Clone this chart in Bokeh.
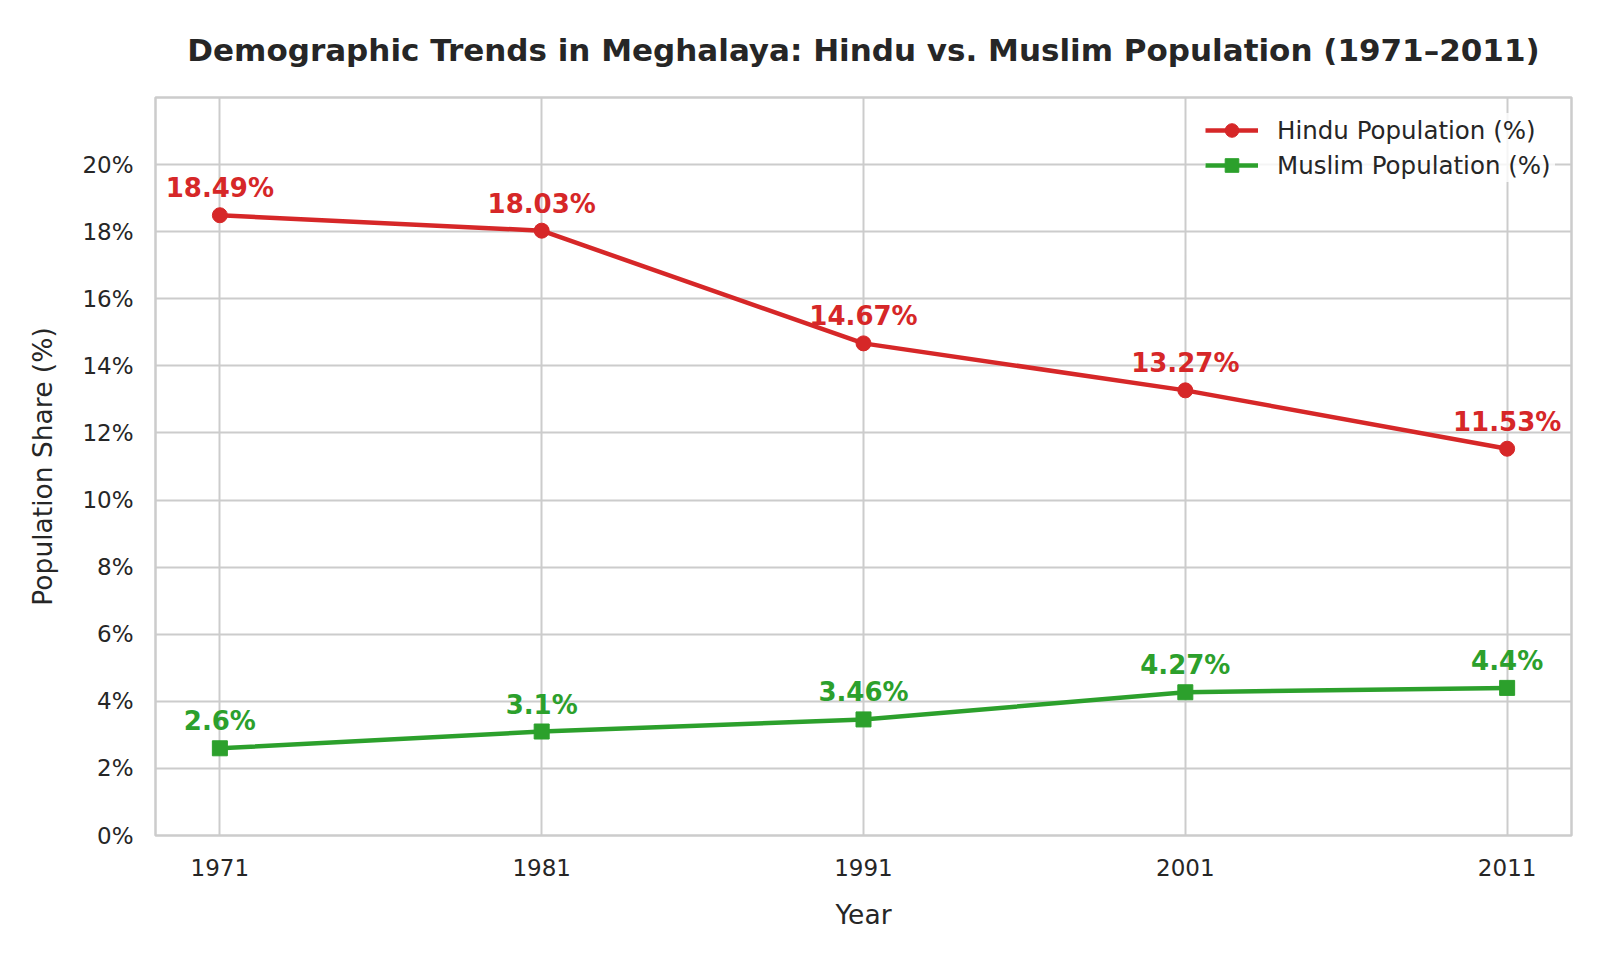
from bokeh.plotting import figure
from bokeh.models import ColumnDataSource, FixedTicker, PrintfTickFormatter, Range1d, Legend
from bokeh.core.properties import value
from bokeh.embed import file_html
from bokeh.resources import INLINE

years = [1971, 1981, 1991, 2001, 2011]
hindu = [18.49, 18.03, 14.67, 13.27, 11.53]
muslim = [2.6, 3.1, 3.46, 4.27, 4.4]
y_ticks = [0, 2, 4, 6, 8, 10, 12, 14, 16, 18, 20]
title_text = "Demographic Trends in Meghalaya: Hindu vs. Muslim Population (1971–2011)"

RED = "#d62728"
GREEN = "#2ca02c"
TXT = "#262626"
FONT = "DejaVu Sans"

p = figure(width=1584, height=944, output_backend="svg", toolbar_location=None,
           x_range=Range1d(1969, 2013), y_range=Range1d(0, 22),
           min_border_left=155, min_border_right=13, min_border_top=97, min_border_bottom=109,
           background_fill_color="white", border_fill_color="white")

p.title.text = title_text
p.title.text_font = FONT
p.title.text_font_size = "31px"
p.title.text_font_style = "bold"
p.title.text_color = TXT
p.title.align = "center"
p.title.standoff = 59

p.outline_line_color = "#cccccc"
p.outline_line_width = 2.5

for ax in (p.xaxis, p.yaxis):
    ax.axis_line_color = None
    ax.major_tick_line_color = None
    ax.minor_tick_line_color = None
    ax.major_tick_out = 0
    ax.major_tick_in = 0
    ax.minor_tick_out = 0
    ax.major_label_text_font = FONT
    ax.major_label_text_font_size = "23px"
    ax.major_label_text_color = TXT
    ax.axis_label_text_font = FONT
    ax.axis_label_text_font_size = "26.5px"
    ax.axis_label_text_font_style = "normal"
    ax.axis_label_text_color = TXT

p.xaxis.axis_label = "Year"
p.yaxis.axis_label = "Population Share (%)"
p.xaxis.ticker = FixedTicker(ticks=years)
p.yaxis.ticker = FixedTicker(ticks=y_ticks)
p.yaxis.formatter = PrintfTickFormatter(format="%d%%")
p.xaxis.major_label_standoff = 23
p.xaxis.axis_label_standoff = 20
p.yaxis.major_label_standoff = 22
p.yaxis.axis_label_standoff = 21

p.grid.grid_line_color = "#cccccc"
p.grid.grid_line_width = 2

src_h = ColumnDataSource(dict(x=years, y=hindu, t=[f"{v}%" for v in hindu]))
src_m = ColumnDataSource(dict(x=years, y=muslim, t=[f"{v}%" for v in muslim]))

lh = p.line("x", "y", source=src_h, line_color=RED, line_width=4.5)
sh = p.scatter("x", "y", source=src_h, marker="circle", size=15, fill_color=RED, line_color=RED)
lm = p.line("x", "y", source=src_m, line_color=GREEN, line_width=4.5)
sm = p.scatter("x", "y", source=src_m, marker="square", size=15, fill_color=GREEN, line_color=GREEN)

for src, col in ((src_h, RED), (src_m, GREEN)):
    p.text("x", "y", text="t", source=src, text_color=col, text_font=value(FONT),
           text_font_size="26px", text_font_style="bold", text_align="center",
           text_baseline="alphabetic", y_offset=-27)

legend = Legend(items=[("Hindu Population (%)", [lh, sh]), ("Muslim Population (%)", [lm, sm])],
                location="top_right")
legend.label_text_font = FONT
legend.label_text_font_size = "24.5px"
legend.label_text_color = TXT
legend.background_fill_color = "white"
legend.background_fill_alpha = 0.8
legend.border_line_color = None
legend.margin = 16
legend.padding = 15
legend.glyph_width = 53
legend.glyph_height = 34
legend.label_height = 34
legend.label_width = 278
legend.label_standoff = 19
legend.spacing = 1
p.add_layout(legend)

open("out.html", "w").write(file_html(p, INLINE))
